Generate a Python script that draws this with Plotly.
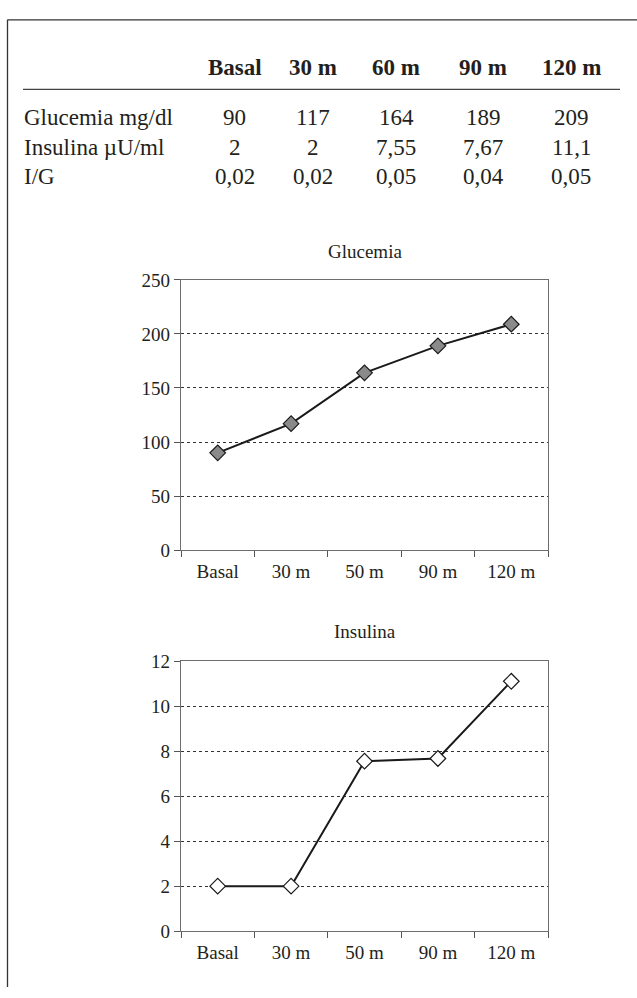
import plotly.graph_objects as go

# ---- data ----
table_headers = ["Basal", "30 m", "60 m", "90 m", "120 m"]
row_labels = ["Glucemia mg/dl", "Insulina µU/ml", "I/G"]
glucemia_vals = [90, 117, 164, 189, 209]
insulina_vals = [2, 2, 7.55, 7.67, 11.1]
ig_vals = [0.02, 0.02, 0.05, 0.04, 0.05]

chart_categories = ["Basal", "30 m", "50 m", "90 m", "120 m"]
glucemia_ticks = [0, 50, 100, 150, 200, 250]
insulina_ticks = [0, 2, 4, 6, 8, 10, 12]

W, H = 637, 998
FONT = "Liberation Serif"
TXT = "#231f20"


def px(x):
    return x / W


def py(y):
    return 1 - y / H


def fmt(v):
    if isinstance(v, int):
        return str(v)
    s = f"{v:.2f}".rstrip("0") if v >= 1 else f"{v:.2f}"
    return s.replace(".", ",")


fig = go.Figure()

fig.add_trace(go.Scatter(
    x=chart_categories, y=glucemia_vals, mode="lines+markers",
    line=dict(color="#1a1a1a", width=2),
    marker=dict(symbol="diamond", size=12, color="#8a8a8a",
                line=dict(color="#1a1a1a", width=1.2)),
    xaxis="x", yaxis="y", showlegend=False, cliponaxis=False))

fig.add_trace(go.Scatter(
    x=chart_categories, y=insulina_vals, mode="lines+markers",
    line=dict(color="#1a1a1a", width=2),
    marker=dict(symbol="diamond", size=12, color="white",
                line=dict(color="#1a1a1a", width=1.2)),
    xaxis="x2", yaxis="y2", showlegend=False, cliponaxis=False))

xdom = [px(181), px(548)]
axis_common = dict(showline=True, linecolor="#6d6d6d", linewidth=1.3, mirror=True,
                   ticks="outside", ticklen=6, tickwidth=1.2, tickcolor="#555",
                   tickfont=dict(family=FONT, size=19, color=TXT))
xaxis_common = dict(axis_common, type="category", tickson="boundaries",
                    showgrid=False, range=[-0.5, 4.5], ticklabelstandoff=4)
yaxis_common = dict(axis_common, showgrid=True, gridcolor="#333",
                    griddash="3px,3px", gridwidth=1, zeroline=False)

annotations = []
# chart titles
annotations.append(dict(text="Glucemia", x=px(364.5), y=py(247), xref="paper", yref="paper",
                        showarrow=False, font=dict(family=FONT, size=19, color=TXT),
                        xanchor="center", yanchor="middle"))
annotations.append(dict(text="Insulina", x=px(364.5), y=py(635), xref="paper", yref="paper",
                        showarrow=False, font=dict(family=FONT, size=19, color=TXT),
                        xanchor="center", yanchor="middle"))

# table
col_x = [234.6, 313, 396, 483, 571]
header_y = 59
row_y = [110, 140, 170]
TF = 23
for cx, h in zip(col_x, table_headers):
    annotations.append(dict(text=f"<b>{h}</b>", x=px(cx), y=py(header_y), xref="paper",
                            yref="paper", showarrow=False, xanchor="center", yanchor="middle",
                            font=dict(family=FONT, size=TF, color=TXT)))
rows = [glucemia_vals, insulina_vals, ig_vals]
for ry, lab, vals in zip(row_y, row_labels, rows):
    annotations.append(dict(text=lab, x=px(22), y=py(ry), xref="paper", yref="paper",
                            showarrow=False, xanchor="left", yanchor="middle",
                            font=dict(family=FONT, size=TF, color=TXT)))
    for cx, v in zip(col_x, vals):
        annotations.append(dict(text=fmt(v), x=px(cx), y=py(ry), xref="paper", yref="paper",
                                showarrow=False, xanchor="center", yanchor="middle",
                                font=dict(family=FONT, size=TF, color=TXT)))

shapes = [
    # outer frame: top and left
    dict(type="line", xref="paper", yref="paper", x0=px(7.5), x1=1, y0=py(10), y1=py(10),
         line=dict(color="#333", width=1.3)),
    dict(type="line", xref="paper", yref="paper", x0=px(7.5), x1=px(7.5), y0=py(10), y1=0,
         line=dict(color="#333", width=1.3)),
    # table header rule
    dict(type="line", xref="paper", yref="paper", x0=px(23), x1=px(620), y0=py(81), y1=py(81),
         line=dict(color="#444", width=1.3)),
]

fig.update_layout(
    width=W, height=H, margin=dict(l=0, r=0, t=0, b=0),
    paper_bgcolor="white", plot_bgcolor="white",
    font=dict(family=FONT, color=TXT),
    xaxis=dict(xaxis_common, domain=xdom, anchor="y"),
    yaxis=dict(yaxis_common, domain=[py(551.7), py(275.7)], range=[0, 250],
               tickvals=glucemia_ticks, anchor="x"),
    xaxis2=dict(xaxis_common, domain=xdom, anchor="y2"),
    yaxis2=dict(yaxis_common, domain=[py(941), py(665)], range=[0, 12],
                tickvals=insulina_ticks, anchor="x2"),
    annotations=annotations, shapes=shapes,
)

fig.write_html("out.html", config={"displayModeBar": False},
               post_script="document.body.style.margin='0';document.body.style.padding='0';")
